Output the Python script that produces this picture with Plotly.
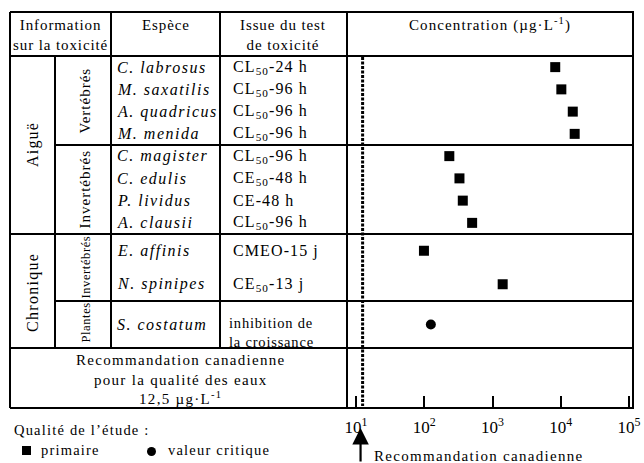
import plotly.graph_objects as go
import math

# ---------------- data ----------------
tox_types = ["Aiguë", "Chronique"]
organisms = ["Vertébrés", "Invertébrés", "Invertébrés", "Plantes"]

species_vert = ["C. labrosus", "M. saxatilis", "A. quadricus", "M. menida"]
tests_vert = ["CL<sub>50</sub>-24 h", "CL<sub>50</sub>-96 h", "CL<sub>50</sub>-96 h", "CL<sub>50</sub>-96 h"]
conc_vert = [8300, 10200, 15000, 16000]

species_inv_a = ["C. magister", "C. edulis", "P. lividus", "A. clausii"]
tests_inv_a = ["CL<sub>50</sub>-96 h", "CE<sub>50</sub>-48 h", "CE-48 h", "CL<sub>50</sub>-96 h"]
conc_inv_a = [233, 328, 367, 503]

species_inv_c = ["E. affinis", "N. spinipes"]
tests_inv_c = ["CMEO-15 j", "CE<sub>50</sub>-13 j"]
conc_inv_c = [99, 1410]

species_plant = ["S. costatum"]
tests_plant = ["inhibition de<br>la croissance"]
conc_plant = [125]

quality_primary = "primaire"
quality_critical = "valeur critique"

guideline = 12.5
tick_vals = [10, 100, 1000, 10000, 100000]
tick_text = ["10<sup>1</sup>", "10<sup>2</sup>", "10<sup>3</sup>", "10<sup>4</sup>", "10<sup>5</sup>"]

# ---------------- layout helpers ----------------
W, H = 644, 463
FONT = "Liberation Serif, Times New Roman, Times, serif"


def px(x):
    return x / W


def py(y):
    return 1 - y / H


shapes = []


def hline(y, x0, x1, w=2):
    shapes.append(dict(type="line", xref="paper", yref="paper", x0=px(x0), x1=px(x1),
                       y0=py(y), y1=py(y), line=dict(color="black", width=w)))


def vline(x, y0, y1, w=2):
    shapes.append(dict(type="line", xref="paper", yref="paper", x0=px(x), x1=px(x),
                       y0=py(y0), y1=py(y1), line=dict(color="black", width=w)))


annotations = []


def txt(x, y, s, size=15, xanchor="center", angle=0, italic=False, ls=0.9):
    if ls:
        s = '<span style="letter-spacing:%.1fpx;font-size:%gpx">%s</span>' % (ls, size, s)
    annotations.append(dict(x=px(x), y=py(y), xref="paper", yref="paper", text=s,
                            showarrow=False, xanchor=xanchor, yanchor="middle",
                            textangle=angle, align="left" if xanchor == "left" else "center",
                            font=dict(family=FONT, size=size, color="black",
                                      style="italic" if italic else "normal")))


# table geometry (pixel positions)
L, R = 10, 633
TOP, HEAD = 12, 56
C1, C2, C3, C4 = 55, 111, 220, 347
B_VERT, B_ACUTE, B_INVC, B_PLANT, BOTTOM = 145, 234, 301, 348, 408

hline(TOP, L, R + 1)
hline(HEAD, L, R + 1)
hline(B_VERT, C1, R + 1)
hline(B_ACUTE, L, R + 1)
hline(B_INVC, C1, R + 1)
hline(B_PLANT, L, R + 1)
hline(BOTTOM, L, R + 1)
vline(L, TOP, BOTTOM)
vline(C1, HEAD, B_PLANT)
vline(C2, TOP, B_PLANT)
vline(C3, TOP, B_PLANT)
vline(C4, TOP, BOTTOM)
vline(R, TOP, BOTTOM)

# header
txt(60, 35, "Information<br>sur la toxicité")
txt(166, 25, "Espèce")
txt(283, 35, "Issue du test<br>de toxicité")
txt(490, 25, "Concentration (µg·L<sup>-1</sup>)", ls=1.1)

# left grouping labels
txt(33, (HEAD + B_ACUTE) / 2, tox_types[0], size=16, angle=-90, ls=1.2)
txt(33, (B_ACUTE + B_PLANT) / 2 + 2, tox_types[1], size=16, angle=-90, ls=1.3)
txt(84, (HEAD + B_VERT) / 2, organisms[0], size=15, angle=-90, ls=1.0)
txt(84, (B_VERT + B_ACUTE) / 2, organisms[1], size=15, angle=-90, ls=1.0)
txt(85, (B_ACUTE + B_INVC) / 2, organisms[2], size=12.5, angle=-90, ls=0.6)
txt(85, (B_INVC + B_PLANT) / 2 - 2, organisms[3], size=12.5, angle=-90, ls=0.6)

groups = [
    (HEAD, B_VERT, species_vert, tests_vert, conc_vert),
    (B_VERT, B_ACUTE, species_inv_a, tests_inv_a, conc_inv_a),
    (B_ACUTE, B_INVC, species_inv_c, tests_inv_c, conc_inv_c),
    (B_INVC, B_PLANT, species_plant, tests_plant, conc_plant),
]

prim_x, prim_y, crit_x, crit_y = [], [], [], []
for gi, (y0, y1, sp, ts, cv) in enumerate(groups):
    n = len(sp)
    step = (y1 - y0) / n
    for i in range(n):
        yc = y0 + step * (i + 0.5)
        txt(115, yc, sp[i], size=16, xanchor="left", italic=True, ls=1.5)
        if "<br>" in ts[i]:
            txt(227, yc + 8, ts[i], size=14.5, xanchor="left", ls=0.8)
        else:
            txt(231, yc, ts[i], size=16, xanchor="left", ls=1.1)
        if gi == 3:
            crit_x.append(cv[i]); crit_y.append(yc)
        else:
            prim_x.append(cv[i]); prim_y.append(yc)

# guideline row
txt(181, 379, "Recommandation canadienne<br>pour la qualité des eaux<br>12,5 µg·L<sup>-1</sup>",
    size=15, ls=1.3)

# bottom legend
txt(12, 430, "Qualité de l’étude :", size=14.5, xanchor="left", ls=1.2)
shapes.append(dict(type="rect", xref="paper", yref="paper", x0=px(22), x1=px(31),
                   y0=py(446), y1=py(455), fillcolor="black", line=dict(width=0)))
txt(39, 450, quality_primary, size=14.5, xanchor="left", ls=1.2)
shapes.append(dict(type="circle", xref="paper", yref="paper", x0=px(147), x1=px(156),
                   y0=py(447), y1=py(456), fillcolor="black", line=dict(width=0)))
txt(166, 450, quality_critical, size=14.5, xanchor="left", ls=1.2)

# arrow + label
annotations.append(dict(x=math.log10(guideline) - 0.03, y=py(428), xref="x", yref="paper",
                        text="", showarrow=True, ax=0, ay=36, axref="pixel", ayref="pixel",
                        arrowhead=2, arrowsize=1.5, arrowwidth=2.2, arrowcolor="black"))
txt(372, 456, "Recommandation canadienne", size=15, xanchor="left", ls=1.3)

fig = go.Figure()
fig.add_trace(go.Scatter(x=[guideline, guideline], y=[HEAD + 1, BOTTOM - 2], mode="lines",
                         line=dict(color="black", width=3, dash="3px,1.5px"),
                         hoverinfo="skip", showlegend=False))
fig.add_trace(go.Scatter(x=prim_x, y=prim_y, mode="markers", name=quality_primary,
                         marker=dict(symbol="square", size=10, color="black"), showlegend=False))
fig.add_trace(go.Scatter(x=crit_x, y=crit_y, mode="markers", name=quality_critical,
                         marker=dict(symbol="circle", size=10, color="black"), showlegend=False))

fig.update_layout(
    template="none",
    width=W, height=H, margin=dict(l=0, r=0, t=0, b=0, pad=0), autosize=False,
    paper_bgcolor="white", plot_bgcolor="rgba(0,0,0,0)",
    font=dict(family=FONT, color="black"),
    shapes=shapes, annotations=annotations,
    xaxis=dict(type="log", domain=[px(C4), px(R)], automargin=False,
               range=[1 - 9 / 68.3, 5 + 4 / 68.3],
               tickvals=tick_vals, ticktext=tick_text, ticks="inside", ticklen=12,
               tickwidth=2, tickcolor="black", showgrid=False, zeroline=False,
               showline=False, ticklabelstandoff=7,
               tickfont=dict(family=FONT, size=17, color="black")),
    yaxis=dict(domain=[py(BOTTOM), py(HEAD)], range=[BOTTOM, HEAD], visible=False,
               automargin=False),
    showlegend=False,
)

fig.write_html("out.html", config={"displayModeBar": False},
               post_script="document.body.style.margin='0';document.body.style.padding='0';")
